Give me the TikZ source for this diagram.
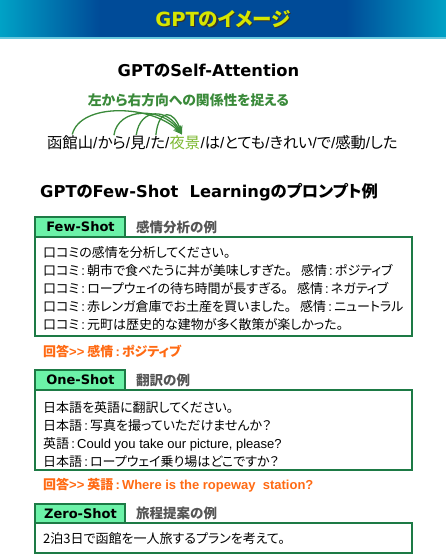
\documentclass[tikz,border=0pt]{standalone}
\usepackage{fontspec}
\setmainfont{Noto Sans CJK JP}[RawFeature=+palt]
\newfontfamily\latfont{Liberation Sans}
\newfontfamily\headlat{DejaVu Sans}
\usetikzlibrary{arrows.meta,positioning}

\definecolor{bannerblue}{HTML}{004B98}
\definecolor{bannercyan}{HTML}{00A2C6}
\definecolor{titleyellow}{HTML}{D6E600}
\definecolor{tabgreen}{HTML}{6CF2A8}
\definecolor{boxgreen}{HTML}{1D7A45}
\definecolor{notegreen}{HTML}{3A8A3A}
\definecolor{nightgreen}{HTML}{7CB830}
\definecolor{answerorange}{HTML}{FF6A13}
\definecolor{labelgray}{HTML}{555555}

% narrow colon and slash as in the prompts
\newcommand{\kolon}{{\latfont\,:\,}}
\newcommand{\slsh}{{\latfont /}}

\begin{document}
\begin{tikzpicture}[
    x=1pt, y=-1pt,
    >=Stealth,
    % Styles
    heading/.style={font=\fontsize{16.3}{18}\selectfont\bfseries, inner sep=0},
    word/.style={font=\fontsize{15.3}{18}\selectfont, inner sep=0, anchor=base west},
    tabbox/.style={draw=boxgreen, line width=2pt, fill=tabgreen},
    tabtext/.style={font=\fontsize{13}{15}\selectfont\bfseries\headlat, inner sep=0},
    tablabel/.style={font=\fontsize{13.5}{15}\selectfont\bfseries, text=labelgray, inner sep=0, anchor=west},
    promptbox/.style={draw=boxgreen, line width=2pt, fill=white},
    line/.style={font=\fontsize{13}{15}\selectfont, inner sep=0, anchor=base west},
    answer/.style={font=\fontsize{13}{15}\selectfont\bfseries, text=answerorange, inner sep=0, anchor=west},
    attn/.style={->, draw=notegreen, line width=1.3pt}
]
\useasboundingbox (0,0) rectangle (446,555);

% --- Banner ---
\shade[left color=bannercyan, right color=bannerblue] (0,0) rectangle (100,38);
\fill[bannerblue] (100,0) rectangle (346,38);
\shade[left color=bannerblue, right color=bannercyan] (346,0) rectangle (446,38);
\draw[line width=1.5pt, color=bannercyan!60] (0,38) -- (446,38);
\node[font=\fontsize{19.5}{22}\selectfont\bfseries, text=black!80, inner sep=0] at (224.2,20.2) {{\headlat GPT}のイメージ};
\node[font=\fontsize{19.5}{22}\selectfont\bfseries, text=titleyellow, inner sep=0] (title) at (223,19) {{\headlat GPT}のイメージ};

% --- Self-Attention ---
\node[heading] (attn_head) at (208.5,71) {{\headlat GPT}の{\headlat Self-Attention}};
\node[font=\fontsize{13.8}{15}\selectfont\bfseries, text=notegreen, inner sep=0] (attn_note) at (188.5,100) {左から右方向への関係性を捉える};

\node[word] (w1) at (47,148.5) {函館山\slsh};
\node[word, right=0pt of w1.base east, anchor=base west] (w2) {から\slsh};
\node[word, right=0pt of w2.base east, anchor=base west] (w3) {見\slsh};
\node[word, right=0pt of w3.base east, anchor=base west] (w4) {た\slsh};
\node[word, right=0pt of w4.base east, anchor=base west, text=nightgreen] (w5) {夜景};
\node[word, right=0pt of w5.base east, anchor=base west] (w6) {\slsh は\slsh とても\slsh きれい\slsh で\slsh 感動\slsh した};

\coordinate (target) at ([xshift=-3pt, yshift=1pt]w5.north);
\draw[attn] ([xshift=0pt, yshift=1pt]w1.north) .. controls +(8,-32) and +(-30,-30) .. (target);
\draw[attn] ([xshift=0pt, yshift=1pt]w2.north) .. controls +(4,-28) and +(-20,-28) .. (target);
\draw[attn] ([xshift=-4pt, yshift=1pt]w3.north) .. controls +(4,-28) and +(-14,-26) .. (target);
\draw[attn] ([xshift=-4pt, yshift=1pt]w4.north) .. controls +(3,-28) and +(-8,-24) .. (target);

% --- Few-Shot Learning ---
\node[heading, anchor=west] (fsl_head) at (40,192) {{\headlat GPT}の{\headlat Few-Shot\ \ Learning}のプロンプト例};

% Few-Shot
\draw[promptbox] (35,237) rectangle (412,336);
\draw[tabbox] (35,217) rectangle (125,237);
\node[tabtext] (few_tab) at (80.5,227) {Few-Shot};
\node[tablabel] (few_label) at (136,227) {感情分析の例};
\node[line] (few1) at (43,257) {口コミの感情を分析してください。};
\node[line] (few2) at (43,275) {口コミ\kolon 朝市で食べたうに丼が美味しすぎた。\hspace{9pt}感情\kolon ポジティブ};
\node[line] (few3) at (43,293) {口コミ\kolon ロープウェイの待ち時間が長すぎる。\hspace{9pt}感情\kolon ネガティブ};
\node[line] (few4) at (43,311) {口コミ\kolon 赤レンガ倉庫でお土産を買いました。\hspace{9pt}感情\kolon ニュートラル};
\node[line] (few5) at (43,329) {口コミ\kolon 元町は歴史的な建物が多く散策が楽しかった。};
\node[answer] (few_ans) at (43,351) {回答{\latfont >{}>} 感情\kolon ポジティブ};

% One-Shot
\draw[promptbox] (35,390) rectangle (412,470);
\draw[tabbox] (35,370) rectangle (125,390);
\node[tabtext] (one_tab) at (80.5,380) {One-Shot};
\node[tablabel] (one_label) at (136,380) {翻訳の例};
\node[line] (one1) at (43,412) {日本語を英語に翻訳してください。};
\node[line] (one2) at (43,430) {日本語\kolon 写真を撮っていただけませんか？};
\node[line] (one3) at (43,448) {英語\kolon{\latfont Could you take our picture, please?}};
\node[line] (one4) at (43,466) {日本語\kolon ロープウェイ乗り場はどこですか？};
\node[answer] (one_ans) at (43,485) {回答{\latfont >{}>} 英語\kolon{\latfont Where is the ropeway\ \ station?}};

% Zero-Shot
\draw[promptbox] (35,523) rectangle (412,553);
\draw[tabbox] (35,504) rectangle (125,523);
\node[tabtext] (zero_tab) at (80.5,513.5) {Zero-Shot};
\node[tablabel] (zero_label) at (136,513.5) {旅程提案の例};
\node[line] (zero1) at (43,543) {2泊3日で函館を一人旅するプランを考えて。};

\end{tikzpicture}
\end{document}
